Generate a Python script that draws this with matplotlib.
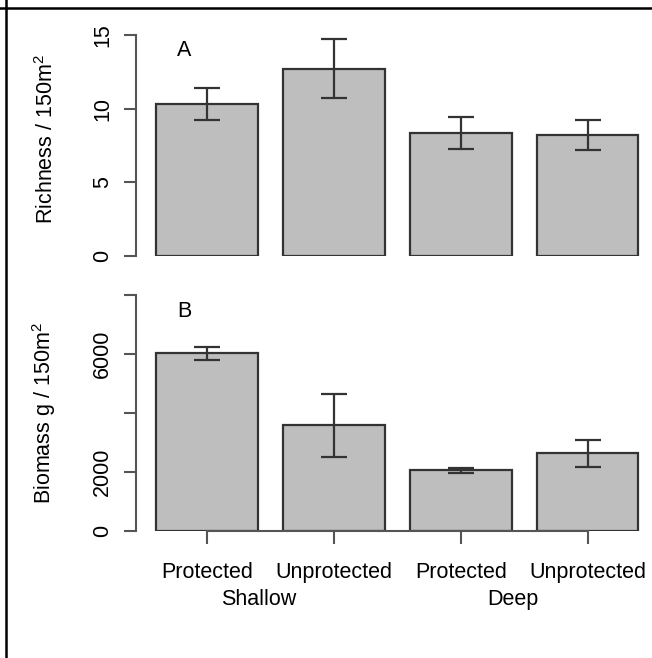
import numpy as np
from matplotlib import pyplot as plt
from matplotlib.lines import Line2D

plt.rcParams['font.family'] = ['Liberation Sans', 'DejaVu Sans']
plt.rcParams['mathtext.fontset'] = 'custom'
plt.rcParams['mathtext.rm'] = 'Liberation Sans'

# данные
sites = ['Protected', 'Unprotected', 'Protected', 'Unprotected']
groups = ['Shallow', 'Deep']
richness = [10.33, 12.70, 8.33, 8.22]
richness_se = [1.10, 2.00, 1.10, 1.00]
biomass = [6020, 3580, 2050, 2625]
biomass_se = [220, 1070, 75, 455]

W, H = 652, 658
fig = plt.figure(figsize=(W / 100, H / 100), dpi=100)

def box(l, t, r, b):
    return [l / W, 1 - b / H, (r - l) / W, (b - t) / H]

fill = '#bebebe'
edge = '#333333'
fs = 15.5
x = np.arange(len(sites))


def panel(ax, vals, errs, ylim, ticks, labels, ylab, letter):
    ax.bar(x, vals, width=0.8, color=fill, edgecolor=edge, linewidth=1.6)
    ax.errorbar(x, vals, yerr=errs, fmt='none', ecolor=edge, elinewidth=1.6,
                capsize=9.4, capthick=1.6)
    ax.set_xlim(-0.56, 3.46)
    ax.set_ylim(*ylim)
    for s in ['top', 'right']:
        ax.spines[s].set_visible(False)
    ax.spines['left'].set_bounds(ylim[0], ylim[1])
    ax.spines['left'].set_color('#555555')
    ax.spines['left'].set_linewidth(1.5)
    ax.set_yticks(ticks)
    ax.set_yticklabels(labels, rotation=90, va='center')
    ax.tick_params(axis='y', length=8.6, width=1.5, color='#555555',
                   labelsize=fs, pad=8)
    ax.set_ylabel(ylab, fontsize=fs)
    ax.text(-0.18, 0.93, letter, transform=ax.get_xaxis_transform(),
            fontsize=fs, ha='center', va='center')


# A - видовое богатство
ax1 = fig.add_axes(box(136, 35, 646, 256))
panel(ax1, richness, richness_se, (0, 15), [0, 5, 10, 15],
      ['0', '5', '10', '15'], 'Richness / 150m$^2$', 'A')
ax1.spines['bottom'].set_visible(False)
ax1.set_xticks([])
ax1.yaxis.set_label_coords(-0.152, 0.53)

# B - биомасса
ax2 = fig.add_axes(box(136, 295, 646, 530.7))
panel(ax2, biomass, biomass_se, (0, 8000), [0, 2000, 4000, 6000, 8000],
      ['0', '2000', '', '6000', ''], 'Biomass g / 150m$^2$', 'B')
ax2.spines['bottom'].set_bounds(0, 3)
ax2.spines['bottom'].set_color('#555555')
ax2.spines['bottom'].set_linewidth(1.5)
ax2.set_xticks(x)
ax2.set_xticklabels(sites)
ax2.tick_params(axis='x', length=9.4, width=1.5, color='#555555',
                labelsize=fs, pad=13)
ax2.yaxis.set_label_coords(-0.152, 0.5)
for i, g in enumerate(groups):
    ax2.text(x[2 * i:2 * i + 2].mean() - 0.09, -0.29, g, fontsize=fs,
             transform=ax2.get_xaxis_transform(), ha='center', va='center')

# рамка
fig.add_artist(Line2D([0, 1], [1 - 7.5 / H] * 2, color='black', lw=1.8))
fig.add_artist(Line2D([5.5 / W] * 2, [0, 1], color='black', lw=1.8))

fig.savefig('out.png', dpi=100)
